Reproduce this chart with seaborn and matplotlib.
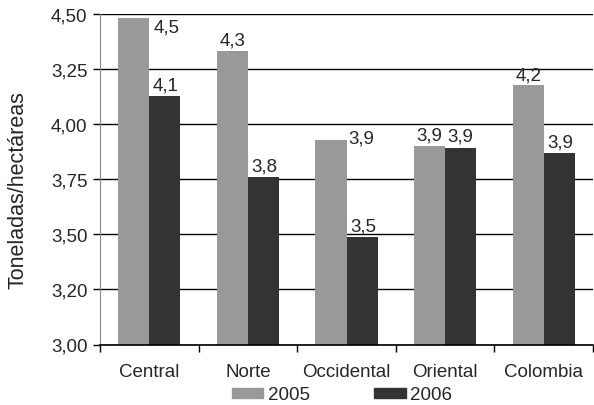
import numpy as np
import pandas as pd
import matplotlib
matplotlib.use('Agg')
import matplotlib.pyplot as plt
import seaborn as sns

# Data
regions = ['Central', 'Norte', 'Occidental', 'Oriental', 'Colombia']
values_2005 = [4.48, 4.33, 3.93, 3.90, 4.18]
values_2006 = [4.13, 3.76, 3.49, 3.89, 3.87]
ytick_vals = [3.00, 3.25, 3.50, 3.75, 4.00, 4.25, 4.50]
ytick_labels = ['3,00', '3,20', '3,50', '3,75', '4,00', '3,25', '4,50']

df = pd.DataFrame({
    'region': regions * 2,
    'year': ['2005'] * 5 + ['2006'] * 5,
    'value': values_2005 + values_2006,
})

sns.set_style('white')
plt.rcParams['font.family'] = ['Liberation Sans', 'DejaVu Sans']

fig = plt.figure(figsize=(5.94, 4.06), dpi=100)
ax = fig.add_axes([100 / 594, (406 - 345.5) / 406, 493 / 594, 330.5 / 406])

palette = {'2005': '#999999', '2006': '#333333'}
sns.barplot(data=df, x='region', y='value', hue='year', palette=palette,
            width=0.63, gap=0, saturation=1, edgecolor='none', ax=ax)

ax.set_ylim(3.0, 4.5)
ax.set_xlim(-0.5, 4.5)
ax.set_yticks(ytick_vals)
ax.set_yticklabels(ytick_labels, fontsize=13.5)
ax.tick_params(axis='y', direction='out', length=5, width=1, color='black', pad=4, left=True)
ax.tick_params(axis='x', which='major', length=0, labelsize=13.5, pad=13)
ax.set_xticks(np.arange(-0.5, 5, 1), minor=True)
ax.tick_params(axis='x', which='minor', direction='out', length=5, width=1, color='black', bottom=True)
ax.yaxis.grid(True, color='black', linewidth=1)
ax.set_axisbelow(True)
ax.set_xlabel('')
ax.set_ylabel('Toneladas/hectáreas', fontsize=15.5, labelpad=16)
ax.yaxis.label.set_y(0.47)

for s in ['top', 'right']:
    ax.spines[s].set_visible(False)
ax.spines['left'].set_color('#888888')
ax.spines['bottom'].set_color('black')
ax.spines['bottom'].set_linewidth(1.2)

# label offsets in pixels (dx, dy) from the top centre of each bar
offsets_2005 = [(33, -9), (0, 11), (30, 2), (0, 11), (0, 10)]
offsets_2006 = [(1, 11), (1, 11), (1, 11), (0, 12), (1, 11)]

containers = ax.containers
for cont, offs in zip(containers, [offsets_2005, offsets_2006]):
    for bar, (dx, dy) in zip(cont, offs):
        h = bar.get_height()
        ax.annotate(f'{h:.1f}'.replace('.', ','),
                    (bar.get_x() + bar.get_width() / 2, h),
                    xytext=(dx, dy), textcoords='offset pixels',
                    ha='center', va='center', fontsize=13.5)

ax.get_legend().remove()
handles = [plt.Rectangle((0, 0), 1, 1, color=palette[k]) for k in ['2005', '2006']]
fig.legend(handles, ['2005', '2006'], loc='center', bbox_to_anchor=(342 / 594, 1 - 396 / 406),
           ncol=2, frameon=False, fontsize=13.5, handlelength=1.7, handleheight=0.45,
           handletextpad=0.25, columnspacing=3.4)

fig.savefig('out.png', dpi=100)
